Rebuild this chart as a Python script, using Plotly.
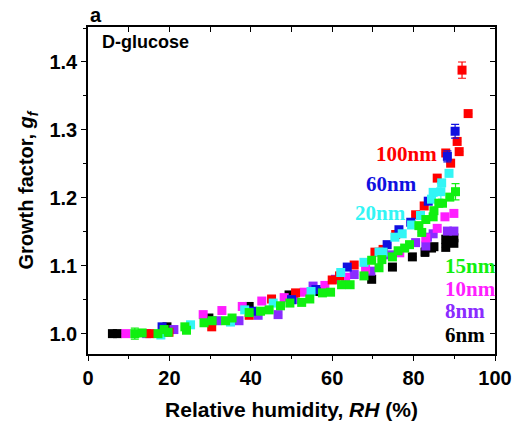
import plotly.graph_objects as go

# ---- data (RH %, growth factor) ----
rh_6nm = [6.0, 7.2, 19.4, 29.7, 39.6, 49.4, 56.5, 69.7, 74.8, 79.7, 82.8, 84.4, 85.0, 87.9, 87.9, 89.9, 89.9]
gf_6nm = [1.000, 1.000, 1.010, 1.023, 1.040, 1.057, 1.062, 1.080, 1.098, 1.113, 1.120, 1.126, 1.128, 1.139, 1.127, 1.141, 1.133]
err_6nm = [0, 0, 0, 0, 0, 0, 0, 0, 0, 0, 0.006, 0, 0, 0, 0, 0, 0]

rh_8nm = [14.4, 21.1, 31.7, 37.1, 41.8, 46.7, 50.6, 55.3, 60.8, 65.4, 69.5, 74.1, 80.5, 83.0, 83.4, 84.8, 88.3, 89.9]
gf_8nm = [1.000, 1.006, 1.019, 1.019, 1.027, 1.028, 1.050, 1.070, 1.080, 1.087, 1.092, 1.116, 1.134, 1.129, 1.142, 1.147, 1.151, 1.151]
err_8nm = [0.005, 0, 0, 0, 0, 0, 0, 0, 0, 0, 0, 0, 0, 0, 0, 0, 0, 0]

rh_10nm = [9.3, 28.3, 32.9, 37.9, 42.7, 48.2, 53.1, 58.2, 63.3, 68.2, 76.6, 83.0, 85.8, 87.7, 89.9]
gf_10nm = [1.000, 1.028, 1.034, 1.040, 1.048, 1.053, 1.061, 1.071, 1.083, 1.095, 1.119, 1.141, 1.155, 1.172, 1.177]

rh_15nm = [11.5, 13.3, 17.2, 18.7, 19.7, 23.8, 24.2, 28.5, 30.5, 33.8, 35.4, 39.6, 42.4, 44.5, 47.3,
           49.6, 52.5, 54.5, 57.6, 59.6, 62.3, 64.4, 67.8, 69.7, 71.5, 72.2, 74.8, 76.2, 77.8, 79.0,
           81.3, 82.0, 83.0, 84.8, 85.0, 86.2, 87.1, 88.9, 90.3]
gf_15nm = [1.000, 1.001, 1.000, 1.006, 1.002, 1.010, 1.005, 1.016, 1.019, 1.019, 1.023, 1.031, 1.033, 1.035, 1.041,
           1.045, 1.046, 1.051, 1.060, 1.061, 1.072, 1.072, 1.085, 1.108, 1.097, 1.109, 1.113, 1.122, 1.126, 1.131,
           1.159, 1.149, 1.168, 1.172, 1.181, 1.192, 1.192, 1.201, 1.209]
err_15nm = [0.008] + [0] * 37 + [0.012]

rh_20nm = [17.9, 25.2, 35.0, 38.5, 45.5, 54.8, 62.1, 67.8, 71.5, 72.5, 75.4, 77.2, 79.5, 81.7, 84.4, 84.8, 86.7, 86.9, 88.7]
gf_20nm = [0.998, 1.013, 1.017, 1.035, 1.045, 1.062, 1.090, 1.105, 1.120, 1.120, 1.142, 1.147, 1.160, 1.174, 1.198, 1.208, 1.209, 1.222, 1.236]
err_20nm = [0] * 16 + [0.012, 0, 0]

rh_60nm = [18.2, 40.3, 50.0, 56.0, 63.7, 73.5, 76.4, 79.3, 83.6, 88.3, 90.2]
gf_60nm = [1.010, 1.033, 1.050, 1.065, 1.098, 1.131, 1.153, 1.164, 1.195, 1.261, 1.298]
err_60nm = [0, 0, 0, 0, 0, 0, 0, 0, 0, 0.008, 0.010]

rh_100nm = [15.2, 19.9, 30.4, 39.6, 45.1, 51.0, 60.0, 61.8, 65.4, 70.5, 72.5, 75.6, 80.5, 82.6, 85.8, 87.9, 89.1, 90.7, 91.2, 91.9, 93.4]
gf_100nm = [1.000, 1.002, 1.010, 1.027, 1.051, 1.060, 1.079, 1.085, 1.101, 1.120, 1.124, 1.146, 1.175, 1.188, 1.229, 1.266, 1.251, 1.283, 1.268, 1.388, 1.324]
err_100nm = [0] * 19 + [0.012, 0]

x_ticks = [0, 20, 40, 60, 80, 100]
y_ticks = [1.0, 1.1, 1.2, 1.3, 1.4]

series = [
    ("6nm", rh_6nm, gf_6nm, err_6nm, "#000000"),
    ("8nm", rh_8nm, gf_8nm, err_8nm, "#8A2BFF"),
    ("10nm", rh_10nm, gf_10nm, None, "#FF1EFF"),
    ("100nm", rh_100nm, gf_100nm, err_100nm, "#FF0000"),
    ("60nm", rh_60nm, gf_60nm, err_60nm, "#1010E0"),
    ("20nm", rh_20nm, gf_20nm, err_20nm, "#33F5F5"),
    ("15nm", rh_15nm, gf_15nm, err_15nm, "#10F010"),
]

fig = go.Figure()
for name, xs, ys, es, col in series:
    kw = {}
    if es is not None:
        kw["error_y"] = dict(type="data", array=es, visible=True, color=col, thickness=1.2, width=4)
    fig.add_trace(go.Scatter(x=xs, y=ys, mode="markers", name=name,
                             marker=dict(symbol="square", size=9, color=col, line=dict(width=0)),
                             showlegend=False, **kw))

tickfont = dict(family="Liberation Sans, Arial", size=20, color="black")
xtitlefont = dict(family="Liberation Sans, Arial", size=21, color="black")
ytitlefont = dict(family="Liberation Sans, Arial", size=20, color="black")
fig.update_layout(
    template="none",
    width=514, height=431, autosize=False,
    margin=dict(l=88, r=19, t=27, b=77, pad=0),
    paper_bgcolor="white", plot_bgcolor="white",
    font=dict(family="Liberation Sans, Arial", color="black"),
    xaxis=dict(range=[0, 100], tickvals=x_ticks, ticktext=[f"<b>{v}</b>" for v in x_ticks],
               automargin=False,
               ticks="outside", ticklen=5, tickwidth=1.3, tickcolor="black",
               minor=dict(dtick=10, ticks="outside", ticklen=3, tickwidth=1.3, tickcolor="black", showgrid=False),
               showline=True, linecolor="black", linewidth=1.5, showgrid=False, zeroline=False,
               tickfont=tickfont,
               title=dict(text="<b>Relative humidity, <i>RH</i> (%)</b>", font=xtitlefont, standoff=15)),
    yaxis=dict(range=[0.97, 1.4515], tickvals=y_ticks, ticktext=[f"<b>{v:.1f}</b>" for v in y_ticks],
               automargin=False,
               ticks="outside", ticklen=5, tickwidth=1.3, tickcolor="black",
               minor=dict(dtick=0.05, tick0=1.0, ticks="outside", ticklen=3, tickwidth=1.3, tickcolor="black", showgrid=False),
               showline=True, linecolor="black", linewidth=1.5, showgrid=False, zeroline=False,
               tickfont=tickfont,
               title=dict(text="<b>Growth factor, <i>g<sub>f</sub></i></b>", font=ytitlefont, standoff=10)),
    xaxis2=dict(overlaying="x", side="top", range=[0, 100], dtick=10, tick0=0, showticklabels=False,
                automargin=False,
                ticks="inside", ticklen=5, tickwidth=1.3, tickcolor="black",
                showline=True, linecolor="black", linewidth=1.5, showgrid=False, zeroline=False),
    yaxis2=dict(overlaying="y", side="right", range=[0.97, 1.4515], dtick=0.05, tick0=1.0, showticklabels=False,
                automargin=False,
                ticks="inside", ticklen=5, tickwidth=1.3, tickcolor="black",
                showline=True, linecolor="black", linewidth=1.5, showgrid=False, zeroline=False),
)
# invisible trace to activate secondary (mirror) axes
fig.add_trace(go.Scatter(x=[None], y=[None], xaxis="x2", yaxis="y2", showlegend=False, hoverinfo="skip"))

serif = "Liberation Serif, Times New Roman"
labels = [
    ("100nm", 78.3, 1.265, "center", "#FF0000"),
    ("60nm", 74.6, 1.221, "center", "#1010E0"),
    ("20nm", 71.9, 1.178, "center", "#33F5F5"),
    ("15nm", 87.2, 1.099, "left", "#10F010"),
    ("10nm", 87.2, 1.066, "left", "#FF1EFF"),
    ("8nm", 87.2, 1.034, "left", "#8A2BFF"),
    ("6nm", 87.2, 0.998, "left", "#000000"),
]
for txt, x, y, anc, col in labels:
    fig.add_annotation(x=x, y=y, text=f"<b>{txt}</b>", showarrow=False, xanchor=anc, yanchor="middle",
                       font=dict(family=serif, size=21, color=col))

fig.add_annotation(xref="paper", yref="paper", x=0.03, y=0.955, text="<b>D-glucose</b>", showarrow=False,
                   xanchor="left", yanchor="middle", font=dict(family="Liberation Sans, Arial", size=18, color="black"))
fig.add_annotation(xref="paper", yref="paper", x=0.0, y=1.0, yshift=12, text="<b>a</b>", showarrow=False,
                   xanchor="left", yanchor="middle", font=dict(family="Liberation Sans, Arial", size=20, color="black"))

fig.write_html("out.html", config={"displayModeBar": False})

# remove the default page margin so the figure sits at the window origin
with open("out.html", "r", encoding="utf-8") as f:
    html = f.read()
html = html.replace("<head>", "<head><style>html,body{margin:0;padding:0;overflow:hidden;}</style>", 1)
with open("out.html", "w", encoding="utf-8") as f:
    f.write(html)
